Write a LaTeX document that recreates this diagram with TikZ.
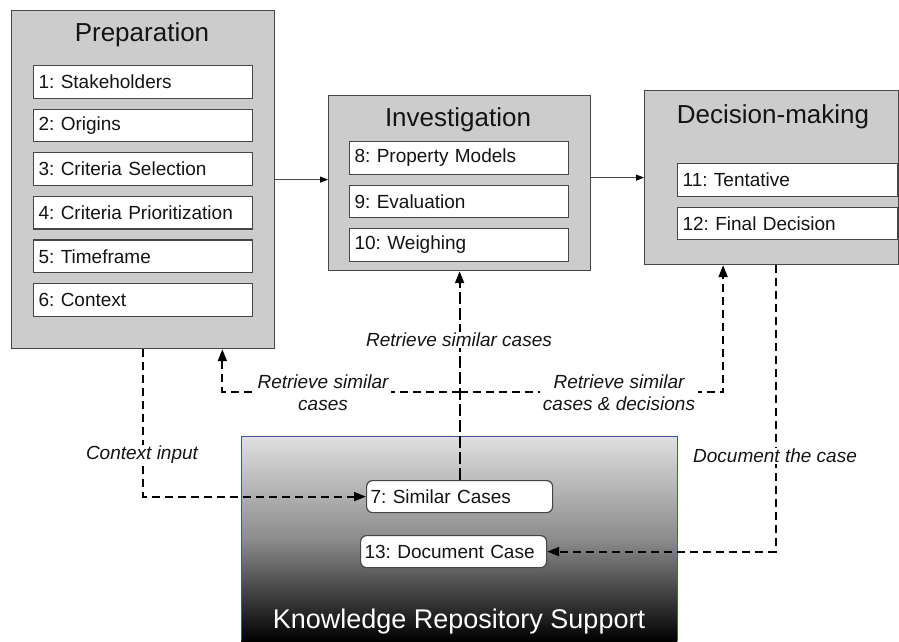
\documentclass[tikz,border=0pt]{standalone}
\usepackage{fontspec}
\setmainfont{Liberation Sans}
\usetikzlibrary{arrows.meta,calc}
\definecolor{boxgray}{RGB}{204,204,204}
\definecolor{edgegray}{RGB}{70,70,70}
\definecolor{txt}{RGB}{20,20,20}
\definecolor{krtop}{RGB}{224,224,224}
\definecolor{krmid}{RGB}{140,140,140}
\definecolor{krblue}{RGB}{60,90,150}
\frenchspacing
\begin{document}
\begin{tikzpicture}[x=1pt,y=-1pt,
  phase/.style={draw=edgegray, fill=boxgray, line width=1.2pt, anchor=north west, inner sep=0pt},
  stepbox/.style={draw=edgegray, fill=white, line width=1.2pt, anchor=north west,
    inner xsep=5pt, inner ysep=0pt, text width=#1, align=left, minimum height=32.5pt,
    font=\fontsize{19}{22}\selectfont, text=txt},
  stepbox/.default=209pt,
  kbox/.style={draw=edgegray, fill=white, line width=1.2pt, rounded corners=6pt, anchor=north west,
    inner xsep=4pt, inner ysep=0pt, text width=#1, align=left, minimum height=32pt,
    font=\fontsize{19}{22}\selectfont, text=txt},
  title/.style={anchor=base, font=\fontsize{26}{30}\selectfont, text=txt, inner sep=0pt},
  lbl/.style={font=\fontsize{19}{22}\selectfont\itshape, text=txt, fill=white, inner xsep=3pt, inner ysep=1pt, align=center},
  flow/.style={line width=2pt, dash pattern=on 8pt off 5pt, -{Triangle[length=12pt,width=9pt]}},
  mainflow/.style={draw=edgegray, line width=1pt, -{Triangle[length=8pt,width=6pt,black]}}
]
\useasboundingbox (0,0) rectangle (899,641);
\fill[white] (0,0) rectangle (899,641);

% Knowledge repository
\node[anchor=north west, minimum width=436pt, minimum height=205pt, inner sep=0pt,
  top color=krtop, bottom color=black, middle color=krmid] (kr) at (241,436) {};
\draw[krblue, line width=0.8pt] (kr.south west) -- (kr.north west) -- (kr.north east) -- (kr.south east);
\node[title, text=white, font=\fontsize{27}{31}\selectfont] (krt) at (459,628) {Knowledge Repository Support};

% Phases
\node[phase, minimum width=263pt, minimum height=338pt] (prep) at (11,10) {};
\node[title] (prept) at (142,41) {Preparation};
\node[stepbox] (s1) at (33,65) {1: Stakeholders};
\node[stepbox] (s2) at (33,108.6) {2: Origins};
\node[stepbox] (s3) at (33,152.2) {3: Criteria Selection};
\node[stepbox] (s4) at (33,195.8) {4: Criteria Prioritization};
\node[stepbox] (s5) at (33,239.4) {5: Timeframe};
\node[stepbox] (s6) at (33,283) {6: Context};

\node[phase, minimum width=262pt, minimum height=175pt] (inv) at (328,95) {};
\node[title] (invt) at (458,126) {Investigation};
\node[stepbox] (s8) at (349,141) {8: Property Models};
\node[stepbox] (s9) at (349,184.5) {9: Evaluation};
\node[stepbox] (s10) at (349,228) {10: Weighing};

\node[phase, minimum width=254pt, minimum height=174pt] (dec) at (644,90) {};
\node[title] (dect) at (773,123) {Decision-making};
\node[stepbox=210pt] (s11) at (677,163) {11: Tentative};
\node[stepbox=210pt] (s12) at (677,206.5) {12: Final Decision};

% Repository items
\node[kbox=178pt] (s7) at (366,480) {7: Similar Cases};
\node[kbox=178pt] (s13) at (360,535) {13: Document Case};

% Main flow
\draw[mainflow] (prep.east) -- (prep.east -| inv.west);
\draw[mainflow] (dec.west -| inv.east) -- (dec.west);

% Context input
\draw[flow] (prep.south) |- (s7.west);
\node[lbl] (lctx) at (142,455) {Context input};

% Retrieve similar cases
\coordinate (hub) at (s7.north |- 0,392);
\draw[flow, dash pattern=on 12pt off 4pt] (s7.north) -- (inv.south);
\draw[flow] (hub) -| ($(prep.south west)!0.8!(prep.south east)$);
\draw[flow] (hub) -| ($(dec.south west)!0.31!(dec.south east)$);
\node[lbl] (lret) at (459,340) {Retrieve similar cases};
\node[lbl] (lretl) at (323,393) {Retrieve similar\\cases};
\node[lbl] (lretr) at (619,393) {Retrieve similar\\cases \& decisions};

% Document the case
\draw[flow] ([xshift=4pt]dec.south) |- (s13.east);
\node[lbl] (ldoc) at (775,456) {Document the case};
\end{tikzpicture}
\end{document}
